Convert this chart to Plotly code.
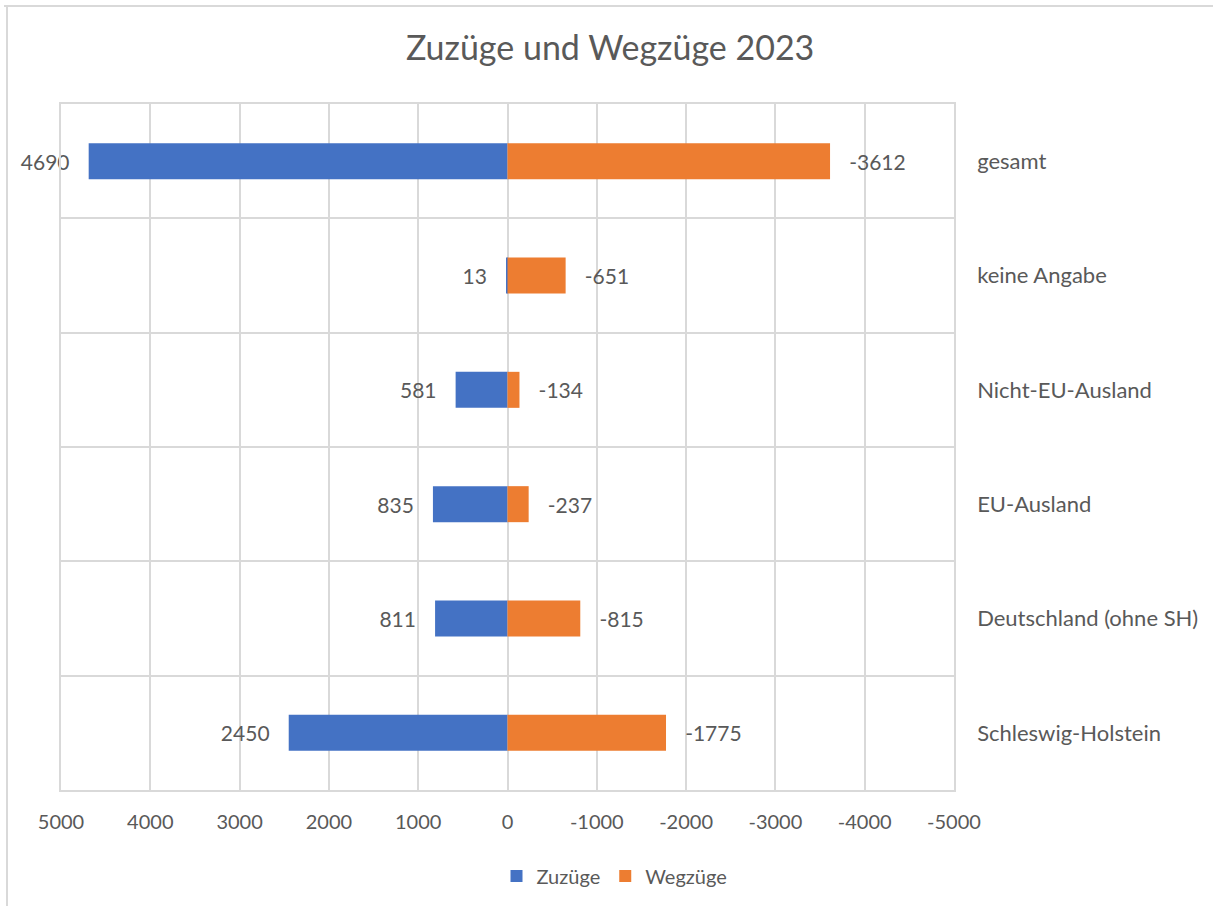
import plotly.graph_objects as go

categories = ["gesamt", "keine Angabe", "Nicht-EU-Ausland", "EU-Ausland",
              "Deutschland (ohne SH)", "Schleswig-Holstein"]
zuzuege = [4690, 13, 581, 835, 811, 2450]
wegzuege = [-3612, -651, -134, -237, -815, -1775]
x_ticks = [5000, 4000, 3000, 2000, 1000, 0, -1000, -2000, -3000, -4000, -5000]

FONT = "Lato"
GRAY = "#595959"
GRID = "#d9d9d9"
NB = "\u00a0"

fig = go.Figure()
fig.add_trace(go.Bar(
    y=categories, x=zuzuege, orientation="h", name="Zuzüge",
    marker=dict(color="#4472C4", line=dict(width=0)),
    width=0.315, text=[f"{v}{NB*3}" for v in zuzuege], textposition="outside",
    textfont=dict(family=FONT, size=21, color=GRAY), cliponaxis=False,
))
fig.add_trace(go.Bar(
    y=categories, x=wegzuege, orientation="h", name="Wegzüge",
    marker=dict(color="#ED7D31", line=dict(width=0)),
    width=0.315, text=[f"{NB*3}{v}" for v in wegzuege], textposition="outside",
    textfont=dict(family=FONT, size=21, color=GRAY), cliponaxis=False,
))

W, H = 1213, 906
L, R, T, B = 61, 954, 104, 790

def px_x(px):
    return (px - L) / (R - L)

def px_y(py):
    return (B - py) / (B - T)

fig.update_layout(
    width=W, height=H,
    margin=dict(l=L, r=W - R, t=T, b=H - B),
    paper_bgcolor="white", plot_bgcolor="white",
    barmode="overlay",
    font=dict(family=FONT, color=GRAY, size=20),
    title=dict(text="Zuzüge und Wegzüge 2023", x=0.503, xref="container",
               y=1 - 48 / H, yref="container", xanchor="center", yanchor="middle",
               font=dict(family=FONT, size=34, color=GRAY)),
    xaxis=dict(range=[5000, -5000], tickvals=x_ticks,
               ticktext=[str(v) for v in x_ticks],
               showgrid=True, gridcolor=GRID, gridwidth=1.5,
               zeroline=True, zerolinecolor=GRID, zerolinewidth=1.5,
               showline=True, mirror=True, linecolor=GRID, linewidth=1.5,
               ticks="", ticklabelstandoff=13,
               tickfont=dict(family=FONT, size=20, color=GRAY)),
    yaxis=dict(type="category", categoryorder="array",
               categoryarray=categories[::-1], side="right",
               tickson="boundaries", showgrid=True, gridcolor=GRID, gridwidth=1.5,
               showline=True, mirror=True, linecolor=GRID, linewidth=1.5,
               ticks="", ticklabelstandoff=17,
               tickfont=dict(family=FONT, size=22, color=GRAY)),
    legend=dict(orientation="h", xref="container", yref="container",
                x=0.5066, y=1 - 876 / H, xanchor="center", yanchor="middle",
                font=dict(family=FONT, size=20, color=GRAY),
                itemwidth=30, traceorder="normal"),
    shapes=[
        dict(type="line", xref="paper", yref="paper",
             x0=px_x(4), x1=px_x(W + 5), y0=px_y(6), y1=px_y(6),
             line=dict(color=GRID, width=2)),
        dict(type="line", xref="paper", yref="paper",
             x0=px_x(7), x1=px_x(7), y0=px_y(5), y1=px_y(H + 5),
             line=dict(color=GRID, width=2)),
    ],
)

fig.write_html(
    "out.html",
    config={"displayModeBar": False},
    post_script="document.body.style.margin='0';document.body.style.overflow='hidden';",
)
